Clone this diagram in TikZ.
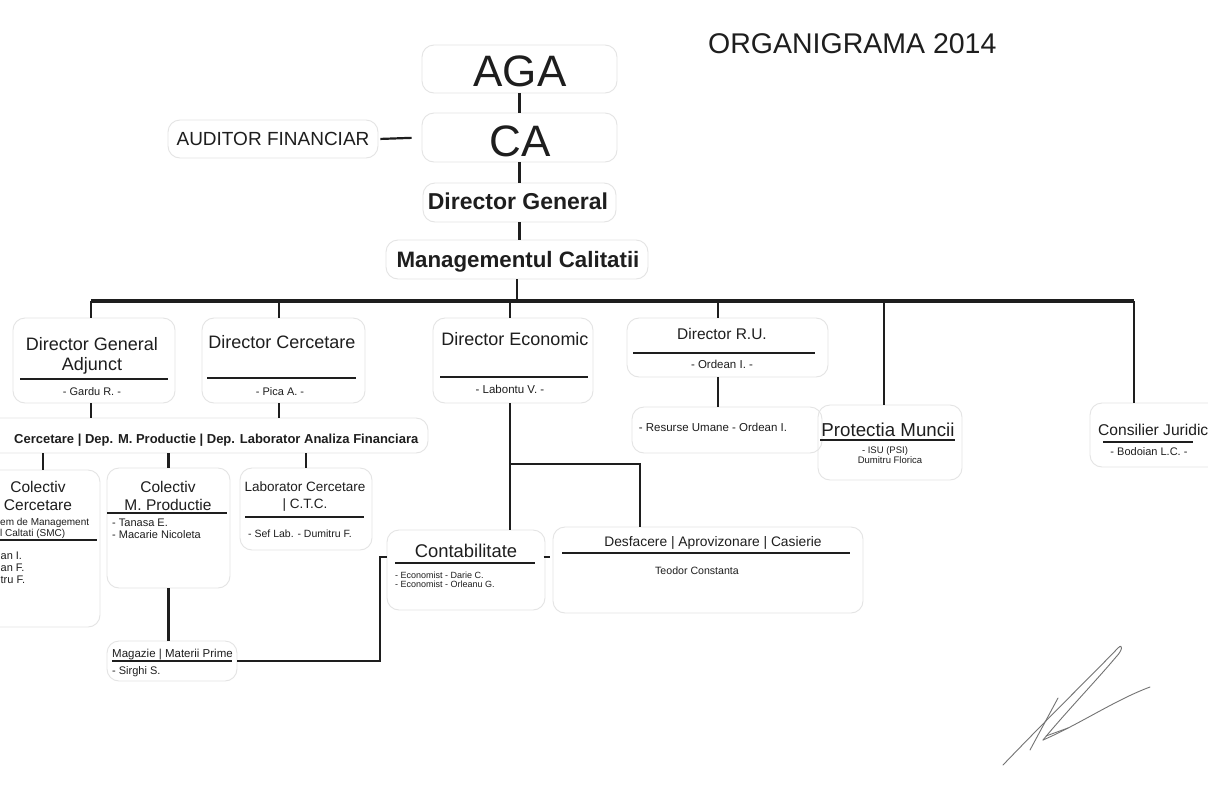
\documentclass[tikz,border=0pt]{standalone}
\usepackage{fontspec}
\setmainfont{Liberation Sans}
\usetikzlibrary{calc}
\definecolor{ink}{HTML}{1E1E1E}
\definecolor{boxc}{HTML}{E4E4E4}
\newcommand\fsz[1]{\fontsize{#1}{#1}\selectfont}
\tikzset{
  box/.style={draw=boxc, line width=0.9pt, rounded corners=12pt, inner sep=0pt},
  tx/.style={anchor=base, inner sep=0pt, text=ink, font=\fsz{#1}},
  tb/.style={anchor=base, inner sep=0pt, text=ink, font=\bfseries\fsz{#1}},
  ul/.style={draw=ink, line width=1.3pt},
  lk/.style={draw=ink, line width=2.2pt},
  lkt/.style={draw=ink, line width=2.8pt},
  barl/.style={draw=ink, line width=3.6pt},
  sig/.style={draw=black!55, line width=0.9pt, line cap=round}
}
\begin{document}
\begin{tikzpicture}[x=1pt,y=-1pt]
\useasboundingbox (0,0) rectangle (1208,785);
\fill[white] (0,0) rectangle (1208,785);
\clip (0,0) rectangle (1208,785);

% ---- boxes ----
\node[box, minimum width=195pt, minimum height=48pt] (aga) at (519.5,69) {};
\node[box, minimum width=195pt, minimum height=49pt] (ca) at (519.5,137.5) {};
\node[box, minimum width=210pt, minimum height=38pt] (aud) at (273,139) {};
\node[box, minimum width=193pt, minimum height=39pt] (dg) at (519.5,202.5) {};
\node[box, minimum width=262pt, minimum height=39pt] (mc) at (517,259.5) {};
\node[box, minimum width=162pt, minimum height=85pt] (dga) at (94,360.5) {};
\node[box, minimum width=163pt, minimum height=85pt] (dc) at (283.5,360.5) {};
\node[box, minimum width=443pt, minimum height=35pt] (dep) at (206.5,435.5) {};
\node[box, minimum width=114pt, minimum height=157pt] (cc) at (43,548.5) {};
\node[box, minimum width=123pt, minimum height=120pt] (cmp) at (168.5,528) {};
\node[box, minimum width=132pt, minimum height=82pt] (lab) at (306,509) {};
\node[box, minimum width=130pt, minimum height=40pt] (mag) at (172,661) {};
\node[box, minimum width=160pt, minimum height=85pt] (de) at (513,360.5) {};
\node[box, minimum width=158pt, minimum height=80pt] (cont) at (466,570) {};
\node[box, minimum width=310pt, minimum height=86pt] (desf) at (708,570) {};
\node[box, minimum width=201pt, minimum height=59pt] (dru) at (727.5,347.5) {};
\node[box, minimum width=190pt, minimum height=46pt] (ru) at (727,430) {};
\node[box, minimum width=144pt, minimum height=75pt] (pm) at (890,442.5) {};
\node[box, minimum width=135pt, minimum height=64pt] (cj) at (1157.5,435) {};

% ---- texts ----
\node[tx=28.5, anchor=base west] (title) at (708,53) {ORGANIGRAMA 2014};
\node[tx=44] (agat) at (520,86) {AGA};
\node[tx=44] (cat) at (520,156) {CA};
\node[tx=19] (audt) at (273,145) {AUDITOR FINANCIAR};
\node[tb=23] (dgt) at (518,209) {Director General};
\node[tb=22.3] (mct) at (518,267) {Managementul Calitatii};

\node[tx=18] (dgt1) at (92,350) {Director General};
\node[tx=18] (dgt2) at (92,370) {Adjunct};
\draw[ul] (20,379) -- (168,379);
\node[tx=11] (dgn) at (92,395) {- Gardu R. -};

\node[tx=18] (dct) at (282,348) {Director Cercetare};
\draw[ul] (207,378) -- (356,378);
\node[tx=11] (dcn) at (280,395) {- Pica A. -};

\node[tb=13, anchor=base west] (dept) at (14,443) {Cercetare | Dep. M. Productie | Dep. Laborator Analiza Financiara};

\node[tx=15.5] (cct1) at (38,492) {Colectiv};
\node[tx=15.5] (cct2) at (38,510) {Cercetare};
\node[tx=10, anchor=base west] (cct3) at (0,525) {em de Management};
\node[tx=10, anchor=base west] (cct4) at (0,536) {l Caltati (SMC)};
\draw[ul] (0,540) -- (97,540);
\node[tx=11, anchor=base west] (ccn1) at (-2,559) {ian I.};
\node[tx=11, anchor=base west] (ccn2) at (-2,571) {ian F.};
\node[tx=11, anchor=base west] (ccn3) at (-2,583) {itru F.};

\node[tx=15.5] (cmpt1) at (168,492) {Colectiv};
\node[tx=15.5] (cmpt2) at (168,510) {M. Productie};
\draw[ul] (107,513) -- (227,513);
\node[tx=11, anchor=base west] (cmpn1) at (112,526) {- Tanasa E.};
\node[tx=11, anchor=base west] (cmpn2) at (112,538) {- Macarie Nicoleta};

\node[tx=13.5] (labt1) at (305,491) {Laborator Cercetare};
\node[tx=13.5] (labt2) at (305,508) {| C.T.C.};
\draw[ul] (245,517) -- (364,517);
\node[tx=10.5] (labn) at (300,537) {- Sef Lab. - Dumitru F.};

\node[tx=11.5, anchor=base west] (magt) at (112,657) {Magazie | Materii Prime};
\draw[ul] (112,661) -- (232,661);
\node[tx=11, anchor=base west] (magn) at (112,674) {- Sirghi S.};

\node[tx=18] (det) at (515,345) {Director Economic};
\draw[ul] (440,377) -- (588,377);
\node[tx=11.5] (den) at (510,393) {- Labontu V. -};

\node[tx=18.4] (contt) at (466,557) {Contabilitate};
\draw[ul] (395,563) -- (535,563);
\node[tx=9, anchor=base west] (contn1) at (395,578) {- Economist - Darie C.};
\node[tx=9, anchor=base west] (contn2) at (395,587) {- Economist - Orleanu G.};

\node[tx=13.8] (desft) at (713,546) {Desfacere | Aprovizonare | Casierie};
\draw[ul] (562,553) -- (850,553);
\node[tx=10.6] (desfn) at (697,574) {Teodor Constanta};

\node[tx=15.5] (drut) at (722,339) {Director R.U.};
\draw[ul] (633,353) -- (815,353);
\node[tx=11.5] (drun) at (722,368) {- Ordean I. -};
\node[tx=11.5] (rut) at (713,431) {- Resurse Umane - Ordean I.};

\node[tx=18.7] (pmt) at (888,436) {Protectia Muncii};
\draw[ul, line width=1.7pt] (820,440) -- (955,440);
\node[tx=9.5] (pmn1) at (885,453) {- ISU (PSI)};
\node[tx=9.5] (pmn2) at (890,463) {Dumitru Florica};

\node[tx=15.6, anchor=base west] (cjt) at (1098,435) {Consilier Juridic};
\draw[ul] (1103,442) -- (1193,442);
\node[tx=11] (cjn) at (1149,455) {- Bodoian L.C. -};

% ---- connectors ----
\coordinate (barL) at (91,301);
\coordinate (b2) at (279,301);
\coordinate (b3) at (510,301);
\coordinate (b4) at (718,301);
\coordinate (b5) at (884,301);
\coordinate (barR) at (1134,301);
\coordinate (turn) at (380,557);
\coordinate (ec) at (510,464);
\coordinate (dx) at (640,0);

\draw[lk] (aga.south) -- (ca.north);
\draw[lk, shorten >=10pt, shorten <=2pt] (aud.east) -- (ca.west);
\draw[lk] (ca.south) -- (dg.north);
\draw[lk] (dg.south) -- (dg.south |- mc.north);
\draw[lkt] (mc.south) -- (mc.south |- barL);
\draw[barl] (barL) -- (barR);
\draw[lkt] (barL) -- (barL |- dga.north);
\draw[lkt] (b2) -- (b2 |- dc.north);
\draw[lkt] (b3) -- (b3 |- de.north);
\draw[lkt] (b4) -- (b4 |- dru.north);
\draw[lkt] (b5) -- (b5 |- pm.north);
\draw[lkt] (barR) -- (barR |- cj.north);

\draw[lk] (barL |- dga.south) -- (barL |- dep.north);
\draw[lk] (b2 |- dc.south) -- (b2 |- dep.north);
\draw[lk] (dep.south -| cc.north) -- (cc.north);
\draw[lk] (dep.south -| cmp.north) -- (cmp.north);
\draw[lk] (dep.south -| lab.north) -- (lab.north);
\draw[lkt] (cmp.south) -- (cmp.south |- mag.north);
\draw[lkt] (mag.east) -| (turn) -- (turn -| cont.west);
\draw[lk] ($(turn -| desf.west)+(-9,0)$) -- ($(turn -| desf.west)+(-3,0)$);

\draw[lkt] (b3 |- de.south) -- (b3 |- cont.north);
\draw[lk] (ec) -| (dx |- desf.north);
\draw[lkt] (b4 |- dru.south) -- (b4 |- ru.north);

% ---- signature ----
\draw[sig] (1003,765) .. controls (1050,716) and (1095,672) .. (1118,648)
  .. controls (1123,643) and (1123,650) .. (1116,657)
  .. controls (1095,682) and (1066,712) .. (1043,740);
\draw[sig] (1043,740) .. controls (1080,724) and (1115,700) .. (1150,687);
\draw[sig] (1058,698) -- (1030,750);
\draw[sig] (1046,736) -- (1068,728);
\end{tikzpicture}
\end{document}
